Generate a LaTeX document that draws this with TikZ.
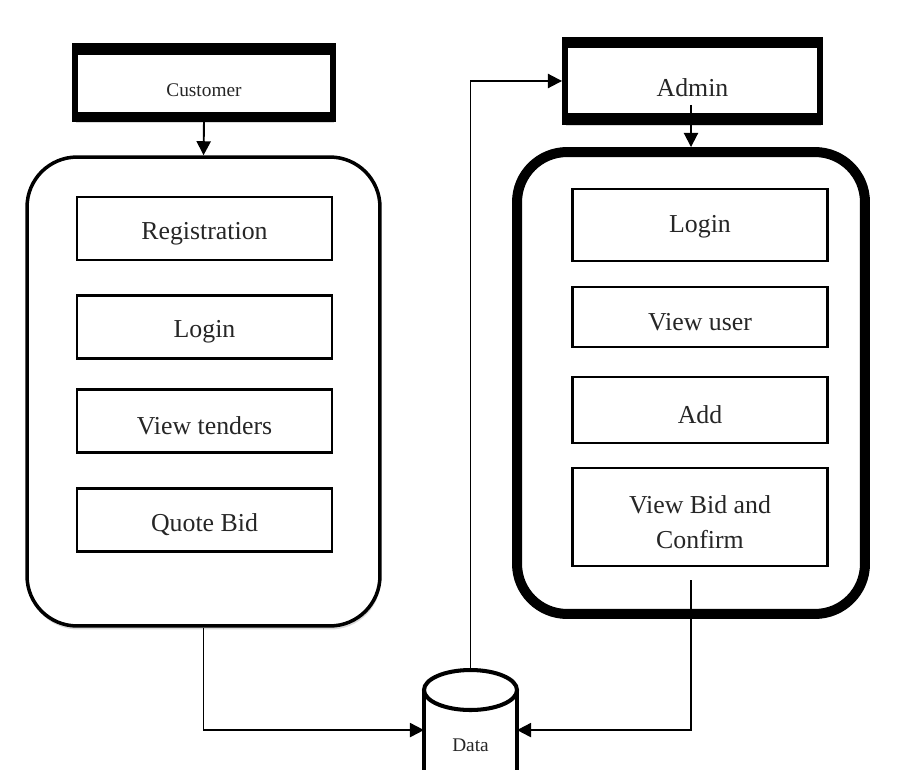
\documentclass[tikz,border=0pt]{standalone}
\usepackage{fontspec}
\setmainfont{Liberation Serif}
\usetikzlibrary{arrows.meta,shadows}
\newcommand\bigtxt{\fontsize{14.7}{19.8}\selectfont}
\newcommand\smalltxt{\fontsize{11}{13}\selectfont}

\begin{document}
\begin{tikzpicture}[x=0.02cm,y=-0.02cm,
  head/.style={draw, fill=white, line width=3.4pt, text=black!85,
    minimum width=5.16cm, minimum height=1.46cm, font=\smalltxt, text height=16pt,
    drop shadow={shadow xshift=0.5pt, shadow yshift=-2pt, opacity=0.3}},
  band/.style={fill=black},
  group/.style={draw, fill=white, rounded corners=1cm, inner sep=0pt,
    drop shadow={shadow xshift=0.5pt, shadow yshift=-2pt, opacity=0.3}},
  item/.style={draw, line width=1.2pt, text=black!85, minimum width=5.1cm,
    minimum height=1.26cm, font=\bigtxt, align=center, text height=15.5pt},
  link/.style={line width=1.1pt, -{Triangle[length=8pt,width=8pt]}}]
\useasboundingbox (0,0) rectangle (909,770);

% actors
\node[head] (cust) at (204,82.5) {Customer};
\node[head, minimum width=5.1cm, minimum height=1.64cm, font=\bigtxt, text height=17.5pt] (adm) at (692.5,81) {Admin};
% heavy top and bottom edges
\fill[band] (cust.north west) rectangle ([yshift=-6.8pt]cust.north east);
\fill[band] (cust.south west) rectangle ([yshift=5.7pt]cust.south east);
\fill[band] (adm.north west) rectangle ([yshift=-6.2pt]adm.north east);
\fill[band] (adm.south west) rectangle ([yshift=6.8pt]adm.south east);

% groups
\node[group, line width=2pt, minimum width=7.06cm, minimum height=9.38cm] (custgrp) at (203.5,391.5) {};
\node[group, line width=5.7pt, minimum width=6.96cm, minimum height=9.24cm] (admgrp) at (691,383) {};

% customer side
\node[item] (reg) at (204.5,228.5) {Registration};
\node[item] (clogin) at (204.5,327) {Login};
\node[item] (tenders) at (204.5,421) {View tenders};
\node[item] (quote) at (204.5,520) {Quote Bid};

% admin side
\node[item, minimum height=1.44cm, text height=12pt] (alogin) at (700,225) {Login};
\node[item, minimum height=1.2cm] (users) at (700,317) {View user};
\node[item, minimum height=1.32cm] (add) at (700,410) {Add};
\node[item, minimum height=1.96cm, text height=36pt] (confirm) at (700,517) {View Bid and\\Confirm};

% database
\node[minimum width=1.86cm, minimum height=2.2cm, inner sep=0pt, outer sep=0pt,
  font=\smalltxt, text=black!85] (data) at (470.5,745) {Data};
\draw[line width=2.3pt] (data.north west) -- (data.south west)
  (data.north east) -- (data.south east);
\draw[line width=2.3pt, fill=white] (data.north) ellipse [x radius=0.93cm, y radius=0.4cm];

% links
\coordinate (admtail) at (691,105);
\coordinate (confirmtail) at (691,580);
\draw[link] (cust.south) -- (custgrp.north);
\draw[link] (admtail) -- (admgrp.north);
\draw[link] (custgrp.south) |- ([yshift=8.5pt]data.west);
\draw[link] (confirmtail) |- ([yshift=8.5pt]data.east);
\draw[link] ([yshift=11.3pt]data.north) |- (adm.west);
\end{tikzpicture}
\end{document}
